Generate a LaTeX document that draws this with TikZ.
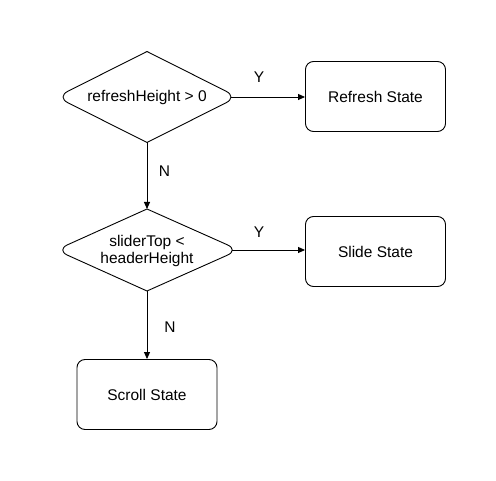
\documentclass[tikz,border=0pt]{standalone}
\usepackage{fontspec}
\setmainfont{Liberation Sans}
\usetikzlibrary{arrows.meta,calc}
\begin{document}
\begin{tikzpicture}[x=1pt,y=-1pt,
  every node/.style={font=\fontsize{15.5}{17.5}\selectfont},
  decisiontext/.style={inner sep=0pt,align=center},
  decisionline/.style={draw,line width=0.9pt,line join=round},
  state/.style={draw,line width=0.9pt,rounded corners=8pt,minimum width=140pt,minimum height=70pt,inner sep=0pt},
  conn/.style={line width=0.9pt,-{Triangle[length=7pt,width=6pt]}},
  lbl/.style={inner sep=0pt}]
\useasboundingbox (0,0) rectangle (496,481);
\def\rc{12.6pt}\def\rk{5.6pt}
% decision 1
\node[decisiontext] (d1) at (147,97) {refreshHeight > 0};
\coordinate (d1w) at (56.5,97);
\coordinate (d1e) at (237.5,97);
\coordinate (d1n) at (147,51.5);
\coordinate (d1s) at (147,142.5);
\coordinate (d1eo) at (231,97);
\draw[decisionline] (d1n)
  -- ($(d1e)!\rc!(d1n)$) .. controls ($(d1e)!\rk!(d1n)$) and ($(d1e)!\rk!(d1s)$) .. ($(d1e)!\rc!(d1s)$)
  -- (d1s)
  -- ($(d1w)!\rc!(d1s)$) .. controls ($(d1w)!\rk!(d1s)$) and ($(d1w)!\rk!(d1n)$) .. ($(d1w)!\rc!(d1n)$)
  -- cycle;
% decision 2
\node[decisiontext] (d2) at (147,251) {sliderTop <\\headerHeight};
\coordinate (d2w) at (56,250);
\coordinate (d2e) at (239,250);
\coordinate (d2n) at (147,209);
\coordinate (d2s) at (147,291);
\coordinate (d2eo) at (232,250);
\draw[decisionline] (d2n)
  -- ($(d2e)!\rc!(d2n)$) .. controls ($(d2e)!\rk!(d2n)$) and ($(d2e)!\rk!(d2s)$) .. ($(d2e)!\rc!(d2s)$)
  -- (d2s)
  -- ($(d2w)!\rc!(d2s)$) .. controls ($(d2w)!\rk!(d2s)$) and ($(d2w)!\rk!(d2n)$) .. ($(d2w)!\rc!(d2n)$)
  -- cycle;
% states
\node[state] (s1) at (375.5,96.5) {Refresh State};
\node[state] (s2) at (375.5,251.5) {Slide State};
\node[state] (s3) at (147,394.5) {Scroll State};
% connectors
\draw[conn] (d1eo) -- (s1.west |- d1eo);
\draw[conn] (d2eo) -- (s2.west |- d2eo);
\draw[conn] (d1s) -- (d2n);
\draw[conn] (d2s) -- (s3.north);
\node[lbl] (y1) at (259,77) {Y};
\node[lbl] (y2) at (259,232) {Y};
\node[lbl] (n1) at (164.5,171) {N};
\node[lbl] (n2) at (170,327) {N};
\end{tikzpicture}
\end{document}
